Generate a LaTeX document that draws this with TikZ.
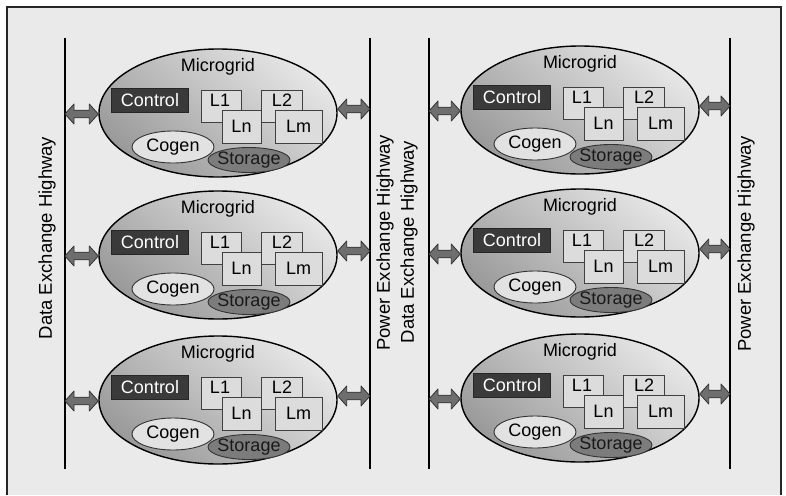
\documentclass[tikz,border=0pt]{standalone}
\usepackage{fontspec}
\setmainfont{Liberation Sans}
\usetikzlibrary{calc,shapes.geometric}
\definecolor{pagebg}{HTML}{EAEAEA}
\definecolor{ctlfill}{HTML}{3A3A3A}
\definecolor{lfill}{HTML}{DCDCDC}
\definecolor{cogfill}{HTML}{E2E2E2}
\definecolor{stofill}{HTML}{7C7C7C}
\definecolor{arrfill}{HTML}{6E6E6E}
\definecolor{elllight}{HTML}{E6E6E6}
\definecolor{elldark}{HTML}{9A9A9A}
\tikzset{
  mgell/.style={ellipse, draw=black, line width=1.4pt, minimum width=238pt, minimum height=128pt,
    inner sep=0pt, top color=elllight, bottom color=elldark, shading angle=-40},
  mglabel/.style={font=\fontsize{18}{20}\selectfont, inner sep=0pt},
  ctlbox/.style={draw=black!85, fill=ctlfill, text=white, minimum width=77pt, minimum height=24pt,
    inner sep=0pt, font=\fontsize{18}{20}\selectfont},
  lbox/.style={draw=black!75, line width=0.9pt, fill=lfill, inner sep=0pt},
  cogell/.style={ellipse, draw=black!80, line width=0.9pt, fill=cogfill, minimum width=82pt, minimum height=32pt, inner sep=0pt},
  stoell/.style={ellipse, draw=black!80, line width=0.9pt, fill=stofill, minimum width=82pt, minimum height=25pt, inner sep=0pt},
  hwline/.style={line width=2.6pt, black},
  hwlabel/.style={rotate=90, font=\fontsize{18.5}{20}\selectfont, inner sep=0pt},
  arrsty/.style={fill=arrfill, draw=black!80, line width=0.8pt, line join=round},
}
% double arrow between two named coordinates on one horizontal line
\newcommand\dblarrow[2]{%
  \filldraw[arrsty] (#1) -- ($(#1)+(9,-10)$) -- ($(#1)+(9,-3.8)$) -- ($(#2)+(-9,-3.8)$) -- ($(#2)+(-9,-10)$)
    -- (#2) -- ($(#2)+(-9,10)$) -- ($(#2)+(-9,3.8)$) -- ($(#1)+(9,3.8)$) -- ($(#1)+(9,10)$) -- cycle;}
% microgrid: name, cx, cy, left highway x, right highway x
\newcommand\mgrid[5]{%
  \node[mgell] (#1) at (#2,#3) {};
  \node[mglabel] (#1-title) at ($(#1)+(0,-46)$) {Microgrid};
  \node[ctlbox] (#1-ctl) at ($(#1)+(-68,-13)$) {Control};
  \node[lbox, minimum width=40pt, minimum height=32pt] (#1-l1) at ($(#1)+(3,-7)$) {};
  \node[lbox, minimum width=41pt, minimum height=32pt] (#1-l2) at ($(#1)+(63.5,-7)$) {};
  \node[mglabel] (#1-l1t) at ($(#1)+(2,-13)$) {L1};
  \node[mglabel] (#1-l2t) at ($(#1)+(64,-13)$) {L2};
  \node[lbox, minimum width=39pt, minimum height=33pt, font=\fontsize{18}{20}\selectfont] (#1-ln) at ($(#1)+(23.5,13.5)$) {Ln};
  \node[lbox, minimum width=47pt, minimum height=33pt, font=\fontsize{18}{20}\selectfont] (#1-lm) at ($(#1)+(80.5,13.5)$) {Lm};
  \node[cogell, label={[mglabel]center:Cogen}] (#1-cog) at ($(#1)+(-45,34)$) {};
  \node[stoell, label={[mglabel, text=black!90]center:Storage}] (#1-sto) at ($(#1)+(31,47)$) {};
  \coordinate (#1-al) at (#4,{#3+1});
  \coordinate (#1-ae) at (#1.west |- #1-al);
  \coordinate (#1-bl) at (#5,{#3-4});
  \coordinate (#1-be) at (#1.east |- #1-bl);
  \dblarrow{#1-al}{#1-ae}
  \dblarrow{#1-be}{#1-bl}
}
\begin{document}
\begin{tikzpicture}[x=1pt,y=-1pt]
\useasboundingbox (0,0) rectangle (786,495);
\fill[white] (0,0) rectangle (786,495);
\fill[pagebg] (7,7) rectangle (781,495);
\draw[black!85, line width=1.2pt] (7,495) -- (7,7) -- (781,7) -- (781,495);
% highways
\coordinate (h1t) at (65,38);  \coordinate (h1b) at (65,469);
\coordinate (h2t) at (370,38); \coordinate (h2b) at (370,469);
\coordinate (h3t) at (429,38); \coordinate (h3b) at (429,469);
\coordinate (h4t) at (730,38); \coordinate (h4b) at (730,469);
\draw[hwline] (h1t) -- (h1b);
\draw[hwline] (h2t) -- (h2b);
\draw[hwline] (h3t) -- (h3b);
\draw[hwline] (h4t) -- (h4b);
\node[hwlabel] (d1) at (47,238) {Data Exchange Highway};
\node[hwlabel] (p1) at (385,243) {Power Exchange Highway};
\node[hwlabel] (d2) at (409,242) {Data Exchange Highway};
\node[hwlabel] (p2) at (746,244) {Power Exchange Highway};
% microgrids
\mgrid{ma}{218}{113}{65}{370}
\mgrid{mb}{218}{255}{65}{370}
\mgrid{mc}{218}{400}{65}{370}
\mgrid{md}{580}{110}{429}{730}
\mgrid{me}{580}{253}{429}{730}
\mgrid{mf}{580}{398}{429}{730}
\end{tikzpicture}
\end{document}
